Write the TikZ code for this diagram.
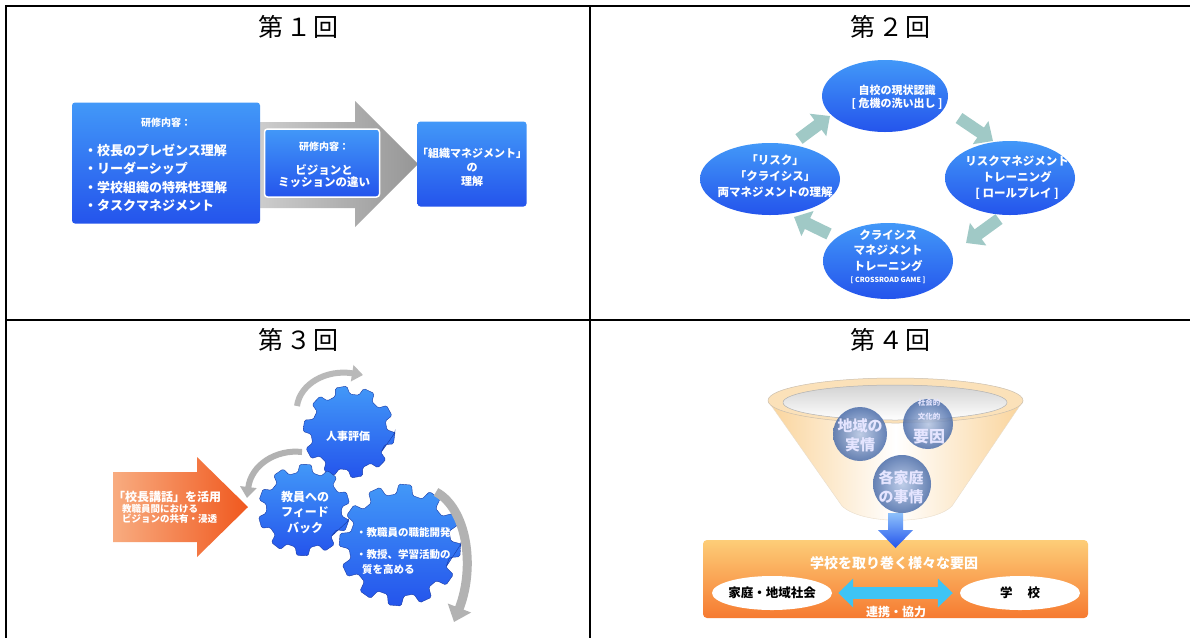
\documentclass[tikz,border=0pt]{standalone}
\usepackage{fontspec}
\setmainfont{Noto Sans CJK JP}
\usetikzlibrary{arrows.meta,shapes.geometric,calc}
\definecolor{btop}{RGB}{66,152,248}
\definecolor{bbot}{RGB}{36,84,236}
\definecolor{tealarr}{RGB}{160,201,198}
\definecolor{orgA}{RGB}{248,172,128}
\definecolor{orgB}{RGB}{240,88,30}
\definecolor{boxtop}{RGB}{253,205,120}
\definecolor{boxbot}{RGB}{246,122,48}
\definecolor{sph}{RGB}{88,128,200}
\definecolor{cyanarr}{RGB}{62,196,245}
\definecolor{funnelc}{RGB}{250,212,155}
\definecolor{garrL}{RGB}{205,205,205}
\definecolor{garrR}{RGB}{150,150,150}
\newcommand{\mygear}[6]{%
  \pgfmathsetmacro\gstep{360/#6}%
  \pgfmathsetmacro\gt{0.2*\gstep}%
  \pgfmathsetmacro\gb{0.31*\gstep}%
  \begin{scope}[shift={(#1,#2)}]
    \shade[top color=btop, bottom color=bbot, rounded corners=1.5pt, draw=bbot!70!black, line width=0.4pt]
      (#5-\gt:#3) \foreach \i in {0,...,#6}{ -- (\i*\gstep+#5-\gt:#3) -- (\i*\gstep+#5+\gt:#3) -- (\i*\gstep+#5+\gb:#4) -- (\i*\gstep+#5+\gstep-\gb:#4)} -- cycle;
  \end{scope}}
\tikzset{
  gridline/.style={line width=1.2pt, black},
  ttl/.style={font=\fontsize{25}{28}\selectfont},
  bluegrad/.style={top color=btop, bottom color=bbot},
  wt/.style={text=white, align=center, inner sep=0pt},
  blockarr/.style={tealarr, line width=12pt, -{Triangle[width=27pt,length=15pt]}},
  grayarc/.style={line width=6pt, -{Triangle[width=16pt,length=11pt]}},
  sphere/.style={inner color=sph!45!white, outer color=sph!85!black, opacity=0.85},
}
\begin{document}
\begin{tikzpicture}[x=1pt,y=-1pt]
\useasboundingbox (0,0) rectangle (1190,638);
\fill[white] (0,0) rectangle (1190,638);

% ---------- grid ----------
\draw[gridline] (1190,6) -- (6,6) -- (6,638);
\draw[gridline] (590,6) -- (590,638);
\draw[gridline] (6,320) -- (1190,320);

\node[ttl] (t1) at (298,27) {第\hspace{3pt}１\hspace{2pt}回};
\node[ttl] (t2) at (890,27) {第\hspace{3pt}２\hspace{2pt}回};
\node[ttl] (t3) at (298,340) {第\hspace{3pt}３\hspace{2pt}回};
\node[ttl] (t4) at (890,340) {第\hspace{3pt}４\hspace{2pt}回};

% ---------- panel 1 ----------
\shade[left color=garrL, right color=garrR] (258,122) -- (355,122) -- (355,101) -- (418,164) -- (355,227) -- (355,208) -- (258,208) -- cycle;
\node[bluegrad, rounded corners=3pt, minimum width=188, minimum height=121, inner sep=0pt] (b1) at (166,163) {};
\node[wt, font=\fontsize{10}{12}\selectfont\bfseries] (b1t) at (166,123) {研修内容：};
\node[wt, align=left, anchor=west, font=\fontsize{13}{18.5}\selectfont\bfseries] (b1l) at (84,178)
  {・校長のプレゼンス理解\\・リーダーシップ\\・学校組織の特殊性理解\\・タスクマネジメント};
\node[bluegrad, draw=white, line width=1.5pt, rounded corners=3pt, minimum width=115, minimum height=68, inner sep=0pt] (b2) at (322,163) {};
\node[wt, font=\fontsize{10}{12}\selectfont\bfseries] (b2t) at (324,147) {研修内容：};
\node[wt, font=\fontsize{11.5}{12.8}\selectfont\bfseries] (b2l) at (324,176) {ビジョンと\\ミッションの違い};
\node[bluegrad, rounded corners=3pt, minimum width=109, minimum height=85, inner sep=0pt] (b3) at (472,164) {};
\node[wt, font=\fontsize{11}{14}\selectfont\bfseries] (b3l) at (472,167) {「組織マネジメント」\\の\\理解};

% ---------- panel 2 ----------
\node[ellipse, bluegrad, minimum width=126, minimum height=72, inner sep=0pt] (e1) at (885,96) {};
\node[ellipse, bluegrad, minimum width=130, minimum height=74, inner sep=0pt] (e2) at (1010,178) {};
\node[ellipse, bluegrad, minimum width=130, minimum height=76, inner sep=0pt] (e3) at (888,261) {};
\node[ellipse, bluegrad, minimum width=140, minimum height=72, inner sep=0pt] (e4) at (770,179) {};
\node[wt, font=\fontsize{11}{13.5}\selectfont\bfseries] (e1t) at (897,97) {自校の現状認識\\{[} 危機の洗い出し ]};
\node[wt, font=\fontsize{11.5}{16}\selectfont\bfseries] (e2t) at (1017,178) {リスクマネジメント\\トレーニング\\{[} ロールプレイ ]};
\node[wt, font=\fontsize{11.5}{15.5}\selectfont\bfseries] (e3t) at (888,257) {クライシス\\マネジメント\\トレーニング\\[-3pt]{\fontsize{7}{9}\selectfont [ CROSSROAD GAME ]}};
\node[wt, font=\fontsize{11.5}{16}\selectfont\bfseries] (e4t) at (775,176) {「リスク」\\「クライシス」\\両マネジメントの理解};
\coordinate (a1s) at (799,139); \coordinate (a1e) at (830,116);
\coordinate (a2s) at (959,118); \coordinate (a2e) at (993,141);
\coordinate (a3s) at (999,219); \coordinate (a3e) at (966,243);
\coordinate (a4s) at (829,234); \coordinate (a4e) at (794,217);
\draw[blockarr] (a1s) -- (a1e);
\draw[blockarr] (a2s) -- (a2e);
\draw[blockarr] (a3s) -- (a3e);
\draw[blockarr] (a4s) -- (a4e);

% ---------- panel 3 ----------
\shade[left color=orgA, right color=orgB] (113,472) -- (197,472) -- (197,457) -- (248,507) -- (197,557) -- (197,542) -- (113,542) -- cycle;
\node[wt, anchor=west, font=\fontsize{12}{14}\selectfont\bfseries] (o1) at (113,497) {「校長講話」を活用};
\node[wt, anchor=west, align=left, font=\fontsize{9.5}{10.5}\selectfont\bfseries] (o2) at (122,514) {教職員間における\\ビジョンの共有・浸透};

\mygear{349}{432}{46}{38}{8}{10}
\mygear{304}{510}{46}{38}{20}{10}
\mygear{400}{545}{61}{51}{5}{12}
\node[wt, font=\fontsize{11}{13}\selectfont\bfseries] (g1t) at (348,436) {人事評価};
\node[wt, font=\fontsize{12}{15.5}\selectfont\bfseries] (g2t) at (305,512) {教員への\\フィード\\バック};
\node[wt, anchor=north west, align=left, font=\fontsize{10.5}{15}\selectfont\bfseries] (g3t) at (356,527) {・教職員の職能開発\\[7pt]・教授、学習活動の\\\hspace{6pt}質を高める};

\coordinate (c1s) at (297,406); \coordinate (c1e) at (363,375);
\coordinate (c2s) at (302,452); \coordinate (c2e) at (247,498);
\coordinate (c3s) at (436,492); \coordinate (c3e) at (454,622);
\draw[grayarc, gray!55] (c1s) .. controls (300,384) and (326,369) .. (c1e);
\draw[grayarc, gray!60] (c2s) .. controls (276,449) and (251,465) .. (c2e);
\draw[line width=9pt, gray!60, -{Triangle[width=24pt,length=15pt]}] (c3s) .. controls (466,508) and (476,565) .. (c3e);

% ---------- panel 4 ----------
\shade[left color=funnelc, right color=funnelc, middle color=white, draw=funnelc!80!black!40, line width=0.4pt]
  (768,401) -- (842,506) .. controls (862,525) and (933,525) .. (952,506) -- (1023,401) -- cycle;
\draw[fill=funnelc!70, draw=funnelc!60!black!50, line width=0.5pt] (895.5,400.5) ellipse [x radius=127.5, y radius=22.5];
\shade[top color=gray!35, bottom color=white, draw=gray!60, line width=0.5pt] (895,402.5) ellipse [x radius=112, y radius=17.5];
\shade[sphere] (860,434) circle [radius=27];
\shade[sphere] (928,424) circle [radius=25];
\shade[sphere] (902,484) circle [radius=29];
\node[wt, text=white!90!blue, font=\fontsize{15}{19}\selectfont\bfseries] (s1) at (860,435) {地域の\\実情};
\node[wt, text=white!90!blue, font=\fontsize{7.5}{14}\selectfont\bfseries] (s2a) at (929,410) {社会的\\文化的};
\node[wt, text=white!90!blue, font=\fontsize{16}{18}\selectfont\bfseries] (s2b) at (929,437) {要因};
\node[wt, text=white!90!blue, font=\fontsize{15}{19}\selectfont\bfseries] (s3) at (901,487) {各家庭\\の事情};

\node[top color=boxtop, bottom color=boxbot, rounded corners=4pt, minimum width=385, minimum height=78, inner sep=0pt] (ob) at (895.5,579) {};
\shade[top color=btop!60, bottom color=bbot] (888,513) -- (903,513) -- (903,530) -- (913,530) -- (895.5,548) -- (878,530) -- (888,530) -- cycle;
\node[wt, font=\fontsize{14}{16}\selectfont\bfseries] (obt) at (894,563) {学校を取り巻く様々な要因};
\node[ellipse, fill=white, minimum width=120, minimum height=34, inner sep=0pt] (w1) at (772,593) {};
\node[ellipse, fill=white, minimum width=120, minimum height=34, inner sep=0pt] (w2) at (1020,593) {};
\node[font=\fontsize{12.5}{14}\selectfont\bfseries, inner sep=0pt] (w1t) at (772,593) {家庭・地域社会};
\node[font=\fontsize{12.5}{14}\selectfont\bfseries, inner sep=0pt] (w2t) at (1020,593) {学\hspace{1.2em}校};
\draw[cyanarr, line width=12pt, {Triangle[width=28pt,length=15pt]}-{Triangle[width=28pt,length=15pt]}] (w1.east) ++(6,0) coordinate (d1) (w2.west) ++(-7,0) coordinate (d2) (d1) -- (d2);
\node[wt, font=\fontsize{12}{14}\selectfont\bfseries] (lk) at (896,612) {連携・協力};
\end{tikzpicture}
\end{document}
